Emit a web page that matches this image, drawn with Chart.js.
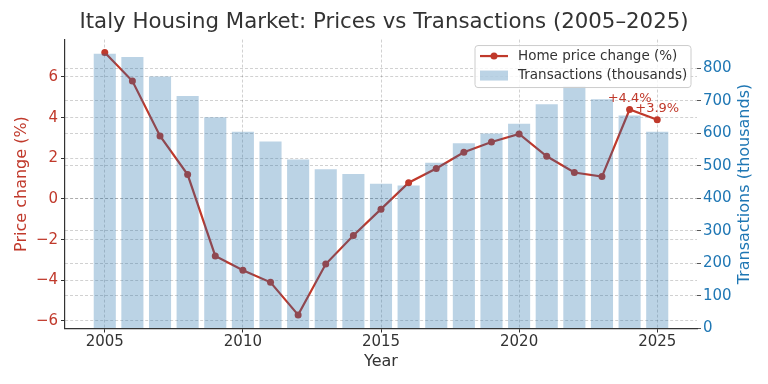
<!DOCTYPE html>
<html>
<head>
<meta charset="utf-8">
<script src="https://cdn.jsdelivr.net/npm/chart.js@4.4.1/dist/chart.umd.min.js"></script>
<style>
  html, body { margin: 0; padding: 0; background: #fff; }
</style>
</head>
<body>
<canvas id="chart" width="768" height="384"></canvas>
<script>
const years = [2005, 2006, 2007, 2008, 2009, 2010, 2011, 2012, 2013, 2014, 2015,
  2016, 2017, 2018, 2019, 2020, 2021, 2022, 2023, 2024, 2025];
const priceChange = [7.2, 5.8, 3.1, 1.2, -2.8, -3.5, -4.1, -5.7, -3.2, -1.8, -0.5,
  0.8, 1.5, 2.3, 2.8, 3.2, 2.1, 1.3, 1.1, 4.4, 3.9];
const transactions = [845, 835, 775, 715, 650, 605, 575, 520, 490, 475, 445,
  440, 510, 570, 600, 630, 690, 745, 705, 655, 605];
const yearTicks = [2005, 2010, 2015, 2020, 2025];
const priceTicks = [-6, -4, -2, 0, 2, 4, 6];
const transTicks = [0, 100, 200, 300, 400, 500, 600, 700, 800];
const labelledYears = [2024, 2025];

const RED = "#c0392b";
const BLUE = "#1f77b4";
const GRID = "rgba(0,0,0,0.18)";
const FONT = "'DejaVu Sans', sans-serif";

Chart.defaults.font.family = FONT;
Chart.defaults.color = "#333";

function minus(v) {
  return v < 0 ? "\u2212" + Math.abs(v) : String(v);
}

// little "+4.4%" notes above the last points
const pointNotes = {
  id: "pointNotes",
  afterDatasetsDraw(chart) {
    const ctx = chart.ctx;
    const meta = chart.getDatasetMeta(0);
    ctx.save();
    ctx.font = "13px " + FONT;
    ctx.fillStyle = RED;
    ctx.textAlign = "center";
    ctx.textBaseline = "middle";
    labelledYears.forEach((yr) => {
      const i = years.indexOf(yr);
      const pt = meta.data[i];
      const v = priceChange[i];
      ctx.fillText((v > 0 ? "+" : "") + v.toFixed(1) + "%", pt.x, pt.y - 11);
    });
    ctx.restore();
  },
};

// right axis title reads bottom-to-top like the left one
const rightTitle = {
  id: "rightTitle",
  afterDraw(chart) {
    const ctx = chart.ctx;
    const area = chart.chartArea;
    ctx.save();
    ctx.translate(chart.scales.y2.right - 23, (area.top + area.bottom) / 2);
    ctx.rotate(-Math.PI / 2);
    ctx.font = "16px " + FONT;
    ctx.fillStyle = BLUE;
    ctx.textAlign = "center";
    ctx.textBaseline = "middle";
    ctx.fillText("Transactions (thousands)", 0, 0);
    ctx.restore();
  },
};

// boxed legend in the top right corner of the plot
const legendBox = {
  id: "legendBox",
  afterDraw(chart) {
    const ctx = chart.ctx;
    const area = chart.chartArea;
    const line = chart.data.datasets[0];
    const bars = chart.data.datasets[1];
    const w = 216, h = 42;
    const x = area.right - w - 6;
    const y = area.top + 6;

    ctx.save();
    ctx.beginPath();
    ctx.roundRect(x, y, w, h, 3);
    ctx.fillStyle = "rgba(255,255,255,0.8)";
    ctx.fill();
    ctx.strokeStyle = "#cccccc";
    ctx.lineWidth = 1;
    ctx.stroke();

    const row1 = y + 10.5, row2 = y + 30;
    ctx.beginPath();
    ctx.moveTo(x + 5, row1);
    ctx.lineTo(x + 33, row1);
    ctx.strokeStyle = line.borderColor;
    ctx.lineWidth = 2.2;
    ctx.stroke();
    ctx.beginPath();
    ctx.arc(x + 19, row1, 3.5, 0, Math.PI * 2);
    ctx.fillStyle = line.borderColor;
    ctx.fill();

    ctx.fillStyle = bars.backgroundColor;
    ctx.fillRect(x + 5, row2 - 5, 28, 10);

    ctx.font = "13.5px " + FONT;
    ctx.fillStyle = "#333";
    ctx.textBaseline = "middle";
    ctx.fillText(line.label, x + 43, row1);
    ctx.fillText(bars.label, x + 43, row2);
    ctx.restore();
  },
};

new Chart(document.getElementById("chart"), {
  type: "bar",
  data: {
    datasets: [
      {
        type: "line",
        label: "Home price change (%)",
        data: years.map((yr, i) => ({ x: yr, y: priceChange[i] })),
        yAxisID: "y",
        borderColor: RED,
        backgroundColor: RED,
        borderWidth: 2.2,
        pointRadius: 3.5,
        pointBackgroundColor: RED,
        pointBorderWidth: 0,
        tension: 0,
        order: 2,
      },
      {
        type: "bar",
        label: "Transactions (thousands)",
        data: years.map((yr, i) => ({ x: yr, y: transactions[i] })),
        yAxisID: "y2",
        backgroundColor: "rgba(31,110,170,0.3)",
        borderWidth: 0,
        categoryPercentage: 1,
        barPercentage: 0.8,
        order: 1,
      },
    ],
  },
  options: {
    responsive: false,
    animation: false,
    layout: { padding: 0 },
    plugins: {
      legend: { display: false },
      tooltip: { enabled: false },
      title: {
        display: true,
        text: "Italy Housing Market: Prices vs Transactions (2005\u20132025)",
        color: "#333",
        font: { size: 21.3, weight: "normal" },
        padding: { top: 10, bottom: 4 },
      },
    },
    scales: {
      x: {
        type: "linear",
        position: "bottom",
        min: 2003.56,
        max: 2026.44,
        offset: false,
        afterBuildTicks: (s) => { s.ticks = yearTicks.map((v) => ({ value: v })); },
        afterFit: (s) => { s.height = 55.5; },
        ticks: { color: "#333", font: { size: 15 }, padding: 1, callback: (v) => String(v) },
        grid: { offset: false, color: GRID, tickColor: "#333", tickLength: 4, tickBorderDash: [] },
        border: { display: true, color: "#333", width: 1.2, dash: [3, 2] },
        title: { display: true, text: "Year", color: "#333", font: { size: 16 }, padding: { top: 0, bottom: 13 } },
      },
      y: {
        type: "linear",
        position: "left",
        min: -6.37,
        max: 7.84,
        afterBuildTicks: (s) => { s.ticks = priceTicks.map((v) => ({ value: v })); },
        afterFit: (s) => { s.width = 65; },
        ticks: { color: RED, font: { size: 15 }, padding: 3, callback: minus },
        grid: { color: GRID, tickColor: "#333", tickLength: 4, tickBorderDash: [] },
        border: { display: true, color: "#333", width: 1.2, dash: [3, 2] },
        title: { display: true, text: "Price change (%)", color: RED, font: { size: 16 }, padding: { top: 12 } },
      },
      y2: {
        type: "linear",
        position: "right",
        min: 0,
        max: 889,
        afterBuildTicks: (s) => { s.ticks = transTicks.map((v) => ({ value: v })); },
        afterFit: (s) => { s.width = 71; },
        ticks: { color: BLUE, font: { size: 15 }, padding: 2 },
        grid: { color: GRID, tickColor: "#555", tickLength: 4, tickBorderDash: [] },
        border: { display: false, dash: [3, 2] },
      },
    },
  },
  plugins: [pointNotes, rightTitle, legendBox],
});
</script>
</body>
</html>
